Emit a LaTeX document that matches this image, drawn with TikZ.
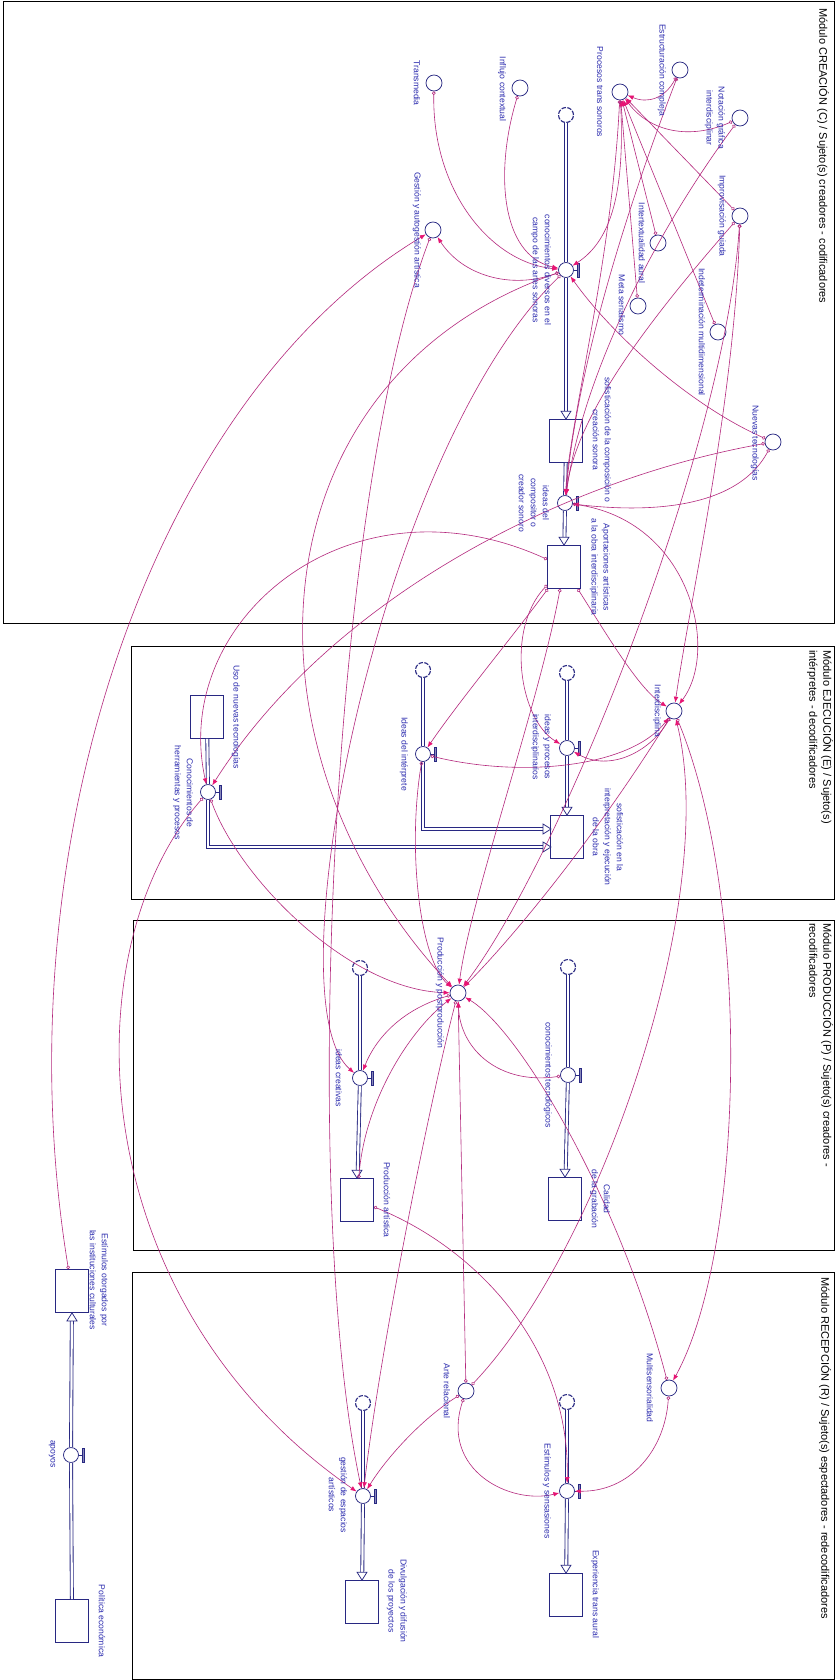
\documentclass[tikz,border=0pt]{standalone}
\usepackage{fontspec}
\setmainfont{Liberation Sans}
\usetikzlibrary{arrows.meta,calc}
\definecolor{navy}{RGB}{40,40,130}
\definecolor{lblblue}{RGB}{45,45,175}
\definecolor{conn}{RGB}{180,40,125}
\definecolor{tipc}{RGB}{230,20,115}
\tikzset{
 aux/.style={circle,draw=navy,fill=white,minimum size=16pt,inner sep=0pt,line width=0.75pt},
 valve/.style={circle,draw=navy,fill=white,minimum size=15pt,inner sep=0pt,line width=0.75pt},
 cloudn/.style={circle,draw=navy,fill=white,minimum size=15pt,inner sep=0pt,line width=1.1pt,dash pattern=on 4.5pt off 1.4pt},
 stock/.style={rectangle,draw=navy,fill=white,minimum width=33pt,minimum height=43pt,inner sep=0pt,line width=0.75pt},
 lbl/.style={text=lblblue,font=\fontsize{8.6}{12}\selectfont,rotate=-90,align=center,inner sep=0pt},
 ttl/.style={text=black,font=\fontsize{11}{14}\selectfont,rotate=-90,align=left,inner sep=0pt},
 frame/.style={draw=black,line width=0.8pt},
 pipe/.style={draw=navy,double=white,double distance=2.2pt,line width=0.85pt},
 flowhd/.style={draw=navy,fill=white,line width=0.75pt,line join=miter},
 cn/.style={draw=conn,line width=0.6pt,{Circle[open,length=3.6pt,width=3.6pt,line width=0.6pt]}-{Latex[length=6pt,width=4.6pt,color=tipc,fill=tipc]}},
 handle/.pic={\draw[navy,line width=0.8pt] (7.5,0)--(11,0); \filldraw[draw=navy,fill=navy!55,line width=0.5pt] (11,-7) rectangle (13.5,7);}
}
\begin{document}
\begin{tikzpicture}[x=1pt,y=-1pt]
\fill[white] (0,0) rectangle (835,1680);
\useasboundingbox (0,0) rectangle (835,1680);
% module frames
\draw[frame] (3,1) rectangle (834,623);
\draw[frame] (131,646) rectangle (834,899);
\draw[frame] (133,920) rectangle (834,1250);
\draw[frame] (132,1272) rectangle (834,1679);
\node[ttl,anchor=west] (tC) at (823,8) {Módulo CREACIÓN (C) / Sujeto(s) creadores - codificadores};
\node[ttl,anchor=north west] (tE) at (833,650) {Módulo EJECUCIÓN (E) / Sujeto(s)\\intérpretes - decodificadores};
\node[ttl,anchor=north west] (tP) at (833,923) {Módulo PRODUCCIÓN (P) / Sujeto(s) creadores -\\recodificadores};
\node[ttl,anchor=west] (tR) at (825,1277) {Módulo RECEPCIÓN (R) / Sujeto(s) espectadores - redecodificadores};

% ---------- nodes: module C
\node[aux] (trans) at (434,83) {};
\node[aux] (influ) at (520,88) {};
\node[aux] (estr) at (680,70) {};
\node[aux] (proc) at (620,92) {};
\node[aux] (nota) at (740,118) {};
\node[aux] (impr) at (740,216) {};
\node[aux] (inter) at (658,243) {};
\node[aux] (meta) at (638,306) {};
\node[aux] (indet) at (718,332) {};
\node[aux] (gest) at (433,230) {};
\node[aux] (nuev) at (773,442) {};
\node[cloudn] (cloudC) at (566,115) {};
\node[valve] (vC1) at (566,270) {};
\node[stock] (sC1) at (566,441) {};
\node[valve] (vC2) at (565,503) {};
\node[stock] (sC2) at (564,567) {};
% module E
\node[stock] (sUso) at (207,717) {};
\node[valve] (vE1) at (208,792) {};
\node[cloudn] (cloudE2) at (423,670) {};
\node[valve] (vE2) at (423,754) {};
\node[cloudn] (cloudE3) at (567,673) {};
\node[valve] (vE3) at (567,748) {};
\node[stock] (sE) at (567,837) {};
\node[aux] (interd) at (674,711) {};
\coordinate (e1in) at (551,847);
\coordinate (e2in) at (551,829);
% module P
\node[cloudn] (cloudP1) at (360,968) {};
\node[valve] (vP1) at (360,1078) {};
\node[stock] (sP1) at (357,1200) {};
\node[aux] (prodpost) at (458,993) {};
\node[cloudn] (cloudP2) at (568,967) {};
\node[valve] (vP2) at (568,1075) {};
\node[stock] (sP2) at (565,1199) {};
% module R
\node[cloudn] (cloudR1) at (363,1403) {};
\node[valve] (vR1) at (363,1496) {};
\node[stock] (sR1) at (362,1602) {};
\node[aux] (arte) at (466,1391) {};
\node[aux] (multi) at (669,1388) {};
\node[cloudn] (cloudR2) at (567,1402) {};
\node[valve] (vR2) at (567,1491) {};
\node[stock] (sR2) at (566,1595) {};
% outside
\node[stock] (sEst) at (72,1291) {};
\node[valve] (vX) at (71,1455) {};
\node[stock] (sPol) at (72,1621) {};

% ---------- flows
\draw[pipe] (cloudC) -- (vC1);
\draw[pipe,shorten >=8pt] (vC1) -- (sC1);
\draw[flowhd] (sC1.north) -- ++(-5,-8) -- ++(10,0) -- cycle;
\draw[pipe] (sC1) -- (vC2);
\draw[pipe,shorten >=8pt] (vC2) -- (sC2);
\draw[flowhd] (sC2.north) -- ++(-5,-8) -- ++(10,0) -- cycle;
\draw[pipe] (sUso) -- (vE1);
\draw[pipe,shorten >=8pt] (vE1) |- (e1in);
\draw[flowhd] (e1in) -- ++(-8,-5) -- ++(0,10) -- cycle;
\draw[pipe] (cloudE2) -- (vE2);
\draw[pipe,shorten >=8pt] (vE2) |- (e2in);
\draw[flowhd] (e2in) -- ++(-8,-5) -- ++(0,10) -- cycle;
\draw[pipe] (cloudE3) -- (vE3);
\draw[pipe,shorten >=8pt] (vE3) -- (sE);
\draw[flowhd] (sE.north) -- ++(-5,-8) -- ++(10,0) -- cycle;
\draw[pipe] (cloudP1) -- (vP1);
\draw[pipe,shorten >=8pt] (vP1) -- (sP1);
\draw[flowhd] (sP1.north) -- ++(-5,-8) -- ++(10,0) -- cycle;
\draw[pipe] (cloudP2) -- (vP2);
\draw[pipe,shorten >=8pt] (vP2) -- (sP2);
\draw[flowhd] (sP2.north) -- ++(-5,-8) -- ++(10,0) -- cycle;
\draw[pipe] (cloudR1) -- (vR1);
\draw[pipe,shorten >=8pt] (vR1) -- (sR1);
\draw[flowhd] (sR1.north) -- ++(-5,-8) -- ++(10,0) -- cycle;
\draw[pipe] (cloudR2) -- (vR2);
\draw[pipe,shorten >=8pt] (vR2) -- (sR2);
\draw[flowhd] (sR2.north) -- ++(-5,-8) -- ++(10,0) -- cycle;
\draw[pipe] (sPol) -- (vX);
\draw[pipe,shorten >=8pt] (vX) -- (sEst);
\draw[flowhd] (sEst.south) -- ++(-5,8) -- ++(10,0) -- cycle;
\foreach \v in {vC1,vC2,vE1,vE2,vE3,vP1,vP2,vR1,vR2,vX} \pic at (\v) {handle};

% ---------- connectors
\draw[cn] (trans) .. controls (432,190) and (490,262) .. (vC1);
\draw[cn] (influ) .. controls (495,170) and (500,255) .. (vC1);
\draw[cn] (proc) .. controls (625,190) and (612,240) .. (vC1);
\draw[cn] (vC1) .. controls (510,290) and (462,275) .. (gest);
\draw[cn] (estr) .. controls (665,98) and (648,104) .. (proc);
\draw[cn] (nota) .. controls (690,140) and (650,132) .. (proc);
\draw[cn] (impr) -- (proc);
\draw[cn] (inter) -- (proc);
\draw[cn] (meta) -- (proc);
\draw[cn] (indet) -- (proc);
\draw[cn] (nuev) .. controls (690,405) and (612,335) .. (vC1);
\draw[cn] (nuev) .. controls (735,512) and (640,512) .. (vC2);
\draw[cn] (nuev) .. controls (560,480) and (330,600) .. (vE1);
\draw[cn] (estr) .. controls (630,200) and (578,360) .. (vC2);
\draw[cn] (nota) .. controls (650,240) and (582,380) .. (vC2);
\draw[cn] (impr) .. controls (640,330) and (575,420) .. (vC2);
\draw[cn] (proc) .. controls (612,260) and (570,420) .. (vC2);
\draw[cn] (sEst) .. controls (0,850) and (150,400) .. (gest);
\draw[cn] (gest) .. controls (330,500) and (300,1200) .. (vR1);
\draw[cn] (vC1) .. controls (250,380) and (230,750) .. (prodpost);
\draw[cn] (sC2) .. controls (350,470) and (170,620) .. (vE1);
\draw[cn] (sC2) .. controls (510,640) and (460,700) .. (vE2);
\draw[cn] (sC2) .. controls (610,640) and (640,690) .. (interd);
\draw[cn] (sC2) .. controls (505,630) and (520,720) .. (vE3);
\draw[cn] (vC2) .. controls (690,520) and (720,650) .. (interd);
\draw[cn] (vE2) .. controls (520,778) and (630,768) .. (interd);
\draw[cn] (interd) .. controls (650,752) and (610,772) .. (vE3);
\draw[cn] (interd) .. controls (752,900) and (745,1250) .. (multi);
\draw[cn] (arte) .. controls (600,1250) and (720,900) .. (interd);
\draw[cn] (interd) .. controls (600,830) and (520,930) .. (prodpost);
\draw[cn] (impr) .. controls (735,400) and (690,600) .. (interd);
\draw[cn] (impr) .. controls (725,450) and (560,860) .. (prodpost);
\draw[cn] (vP2) .. controls (500,1085) and (460,1050) .. (prodpost);
\draw[cn] (multi) .. controls (620,1200) and (520,1030) .. (prodpost);
\draw[cn] (multi) .. controls (665,1450) and (630,1492) .. (vR2);
\draw[cn] (arte) -- (prodpost);
\draw[cn] (arte) .. controls (420,1420) and (385,1460) .. (vR1);
\draw[cn] (arte) .. controls (440,1470) and (510,1505) .. (vR2);
\draw[cn] (sP1) .. controls (480,1250) and (570,1350) .. (vR2);
\draw[cn] (sP1) .. controls (365,1100) and (410,1030) .. (prodpost);
\draw[cn] (prodpost) .. controls (400,1010) and (375,1040) .. (vP1);
\draw[cn] (prodpost) .. controls (430,1100) and (380,1350) .. (vR1);
\draw[cn] (vE1) .. controls (70,950) and (80,1300) .. (vR1);
\draw[cn] (vC1) .. controls (380,450) and (270,1000) .. (vP1);
\draw[cn] (sC2) .. controls (540,700) and (470,900) .. (prodpost);
\draw[cn] (vE1) .. controls (240,880) and (350,990) .. (prodpost);
\draw[cn] (vE2) .. controls (407,850) and (420,960) .. (prodpost);

% ---------- labels
\node[lbl] (Ltrans) at (417,83) {Transmedia};
\node[lbl] (Linflu) at (502,89) {Influjo contextual};
\node[lbl] (Lestr) at (662,70) {Estructuración compleja};
\node[lbl] (Lproc) at (600,92) {Procesos trans sonoros};
\node[lbl] (Lnota) at (715,118) {Notación gráfica\\interdisciplinar};
\node[lbl] (Limpr) at (722,216) {Improvisación guiada};
\node[lbl] (Linter) at (642,243) {Intertextualidad aural};
\node[lbl] (Lmeta) at (622,305) {Meta serialismo};
\node[lbl] (Lindet) at (702,332) {Indeterminación multidimensional};
\node[lbl] (Lgest) at (417,230) {Gestión y autogestión artística};
\node[lbl] (Lnuev) at (755,443) {Nuevas tecnologías};
\node[lbl] (LvC1) at (541,270) {conocimientos diversos en el\\campo de las artes sonoras};
\node[lbl] (LsC1) at (602,440) {sofisticación de la composición o\\creación sonora};
\node[lbl] (LvC2) at (534,503) {ideas del\\compositor o\\creador sonoro};
\node[lbl] (LsC2) at (600,567) {Aportaciones artísticas\\a la obra interdisciplinaria};
\node[lbl] (LsUso) at (236,717) {Uso de nuevas tecnologías};
\node[lbl] (LvE1) at (183,793) {Conocimientos de\\herramientas y procesos};
\node[lbl] (LvE2) at (404,754) {Ideas del intérprete};
\node[lbl] (LvE3) at (541,747) {ideas y procesos\\interdisciplinarios};
\node[lbl] (LsE) at (608,837) {sofisticación en la\\interpretación y ejecución\\de la obra};
\node[lbl] (Linterd) at (657,711) {Interdisciplina};
\node[lbl] (LvP1) at (339,1078) {ideas creativas};
\node[lbl] (LsP1) at (387,1200) {Producción artística};
\node[lbl] (Lprod) at (440,993) {Producción y postproducción};
\node[lbl] (LvP2) at (548,1075) {conocimientos tecnológicos};
\node[lbl] (LsP2) at (600,1199) {Calidad\\de la grabación};
\node[lbl] (LvR1) at (338,1495) {gestión de espacios\\artísticos};
\node[lbl] (LsR1) at (397,1601) {Divulgación y difusión\\de los proyectos};
\node[lbl] (Larte) at (447,1391) {Arte relacional};
\node[lbl] (Lmulti) at (650,1388) {Multisensorialidad};
\node[lbl] (LvR2) at (547,1491) {Estímulos y sensasiones};
\node[lbl] (LsR2) at (595,1594) {Experiencia trans aural};
\node[lbl] (LsEst) at (99,1280) {Estímulos otorgados por\\las instituciones culturales};
\node[lbl] (LvX) at (52,1454) {apoyos};
\node[lbl] (LsPol) at (102,1621) {Política económica};
\end{tikzpicture}
\end{document}
